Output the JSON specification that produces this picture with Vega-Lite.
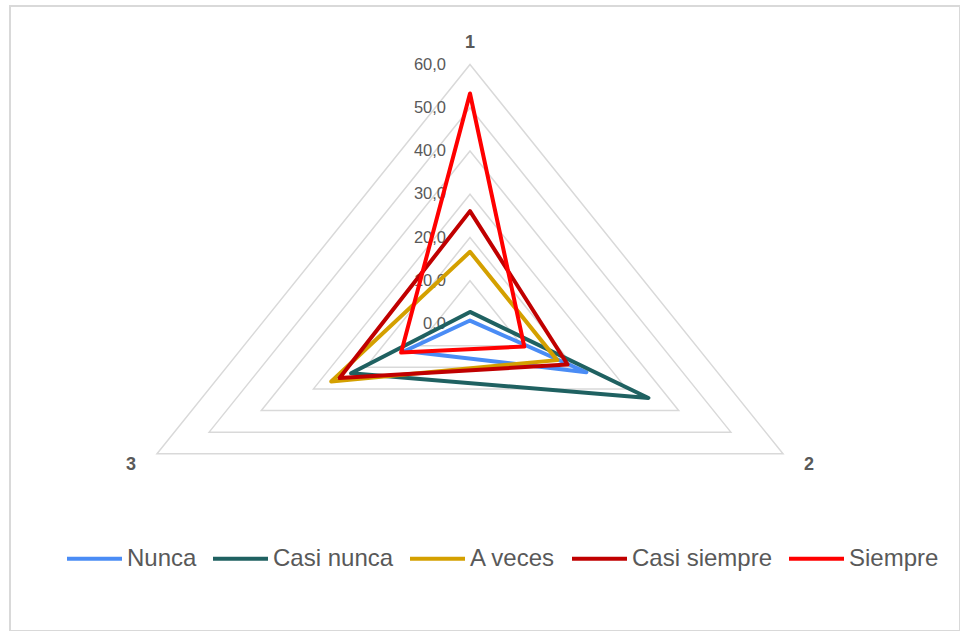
{
  "$schema": "https://vega.github.io/schema/vega-lite/v6.json",
  "autosize": {"type": "none"},
  "padding": {"left": 10, "top": 6, "right": 0, "bottom": 0},
  "width": 950,
  "height": 625,
  "background": "white",
  "config": {
    "view": {"stroke": "#d9d9d9", "strokeWidth": 2},
    "locale": {"number": {"decimal": ",", "thousands": ".", "grouping": [3], "currency": ["", " €"]}}
  },
  "datasets": {
    "series": [
      {"serie": "Nunca", "eje": 1, "valor": 0.8},
      {"serie": "Nunca", "eje": 2, "valor": 22.3},
      {"serie": "Nunca", "eje": 3, "valor": 12.5},
      {"serie": "Casi nunca", "eje": 1, "valor": 2.8},
      {"serie": "Casi nunca", "eje": 2, "valor": 34.2},
      {"serie": "Casi nunca", "eje": 3, "valor": 22.8},
      {"serie": "A veces", "eje": 1, "valor": 16.7},
      {"serie": "A veces", "eje": 2, "valor": 16.7},
      {"serie": "A veces", "eje": 3, "valor": 26.6},
      {"serie": "Casi siempre", "eje": 1, "valor": 26.1},
      {"serie": "Casi siempre", "eje": 2, "valor": 18.7},
      {"serie": "Casi siempre", "eje": 3, "valor": 25.0},
      {"serie": "Siempre", "eje": 1, "valor": 53.3},
      {"serie": "Siempre", "eje": 2, "valor": 10.4},
      {"serie": "Siempre", "eje": 3, "valor": 13.2}
    ],
    "grid": [
      {"nivel": 10, "eje": 1}, {"nivel": 10, "eje": 2}, {"nivel": 10, "eje": 3},
      {"nivel": 20, "eje": 1}, {"nivel": 20, "eje": 2}, {"nivel": 20, "eje": 3},
      {"nivel": 30, "eje": 1}, {"nivel": 30, "eje": 2}, {"nivel": 30, "eje": 3},
      {"nivel": 40, "eje": 1}, {"nivel": 40, "eje": 2}, {"nivel": 40, "eje": 3},
      {"nivel": 50, "eje": 1}, {"nivel": 50, "eje": 2}, {"nivel": 50, "eje": 3},
      {"nivel": 60, "eje": 1}, {"nivel": 60, "eje": 2}, {"nivel": 60, "eje": 3}
    ],
    "niveles": [
      {"nivel": 0}, {"nivel": 10}, {"nivel": 20}, {"nivel": 30}, {"nivel": 40}, {"nivel": 50}, {"nivel": 60}
    ],
    "ejes": [
      {"eje": 1, "etiqueta": "1"},
      {"eje": 2, "etiqueta": "2"},
      {"eje": 3, "etiqueta": "3"}
    ]
  },
  "layer": [
    {
      "data": {"name": "grid"},
      "transform": [
        {"calculate": "(datum.eje - 1) * 2 * PI / 3", "as": "ang"},
        {"calculate": "datum.nivel * sin(datum.ang)", "as": "x"},
        {"calculate": "datum.nivel * cos(datum.ang)", "as": "y"}
      ],
      "mark": {"type": "line", "interpolate": "linear-closed", "stroke": "#d9d9d9", "strokeWidth": 1.5},
      "encoding": {
        "x": {"field": "x", "type": "quantitative", "scale": {"domain": [-76.36, 81.34], "nice": false, "zero": false}, "axis": null},
        "y": {"field": "y", "type": "quantitative", "scale": {"domain": [-70.98, 73.53], "nice": false, "zero": false}, "axis": null},
        "detail": {"field": "nivel", "type": "nominal"},
        "order": {"field": "eje", "type": "quantitative"}
      }
    },
    {
      "data": {"name": "niveles"},
      "transform": [
        {"calculate": "0", "as": "x"}
      ],
      "mark": {"type": "text", "align": "right", "baseline": "middle", "dx": -24, "font": "Liberation Sans", "fontSize": 16.5, "fill": "#595959"},
      "encoding": {
        "x": {"field": "x", "type": "quantitative"},
        "y": {"field": "nivel", "type": "quantitative"},
        "text": {"field": "nivel", "type": "quantitative", "format": ".1f"}
      }
    },
    {
      "data": {"name": "series"},
      "transform": [
        {"calculate": "(datum.eje - 1) * 2 * PI / 3", "as": "ang"},
        {"calculate": "datum.valor * sin(datum.ang)", "as": "x"},
        {"calculate": "datum.valor * cos(datum.ang)", "as": "y"}
      ],
      "mark": {"type": "line", "interpolate": "linear-closed", "strokeJoin": "round", "strokeCap": "round"},
      "encoding": {
        "x": {"field": "x", "type": "quantitative"},
        "y": {"field": "y", "type": "quantitative"},
        "color": {
          "field": "serie", "type": "nominal",
          "scale": {
            "domain": ["Nunca", "Casi nunca", "A veces", "Casi siempre", "Siempre"],
            "range": ["#4a8cf5", "#1f6161", "#d4a000", "#c00000", "#ff0000"]
          },
          "legend": {
            "orient": "none", "legendX": 55, "legendY": 523,
            "direction": "horizontal", "columns": 5, "title": null,
            "labelFont": "Liberation Sans", "labelFontSize": 24, "labelColor": "#595959",
            "symbolType": "stroke", "symbolSize": 3025, "symbolStrokeWidth": 4,
            "labelOffset": 3, "columnPadding": 8
          }
        },
        "strokeWidth": {
          "field": "serie", "type": "nominal",
          "scale": {
            "domain": ["Nunca", "Casi nunca", "A veces", "Casi siempre", "Siempre"],
            "range": [4, 4, 4, 4, 5]
          },
          "legend": null
        },
        "order": {"field": "eje", "type": "quantitative"}
      }
    },
    {
      "data": {"name": "ejes"},
      "transform": [
        {"calculate": "(datum.eje - 1) * 2 * PI / 3", "as": "ang"},
        {"calculate": "65 * sin(datum.ang)", "as": "x"},
        {"calculate": "65 * cos(datum.ang)", "as": "y"}
      ],
      "mark": {"type": "text", "align": "center", "baseline": "middle", "font": "Liberation Sans", "fontSize": 18, "fontWeight": "bold", "fill": "#595959"},
      "encoding": {
        "x": {"field": "x", "type": "quantitative"},
        "y": {"field": "y", "type": "quantitative"},
        "text": {"field": "etiqueta", "type": "nominal"}
      }
    }
  ]
}
